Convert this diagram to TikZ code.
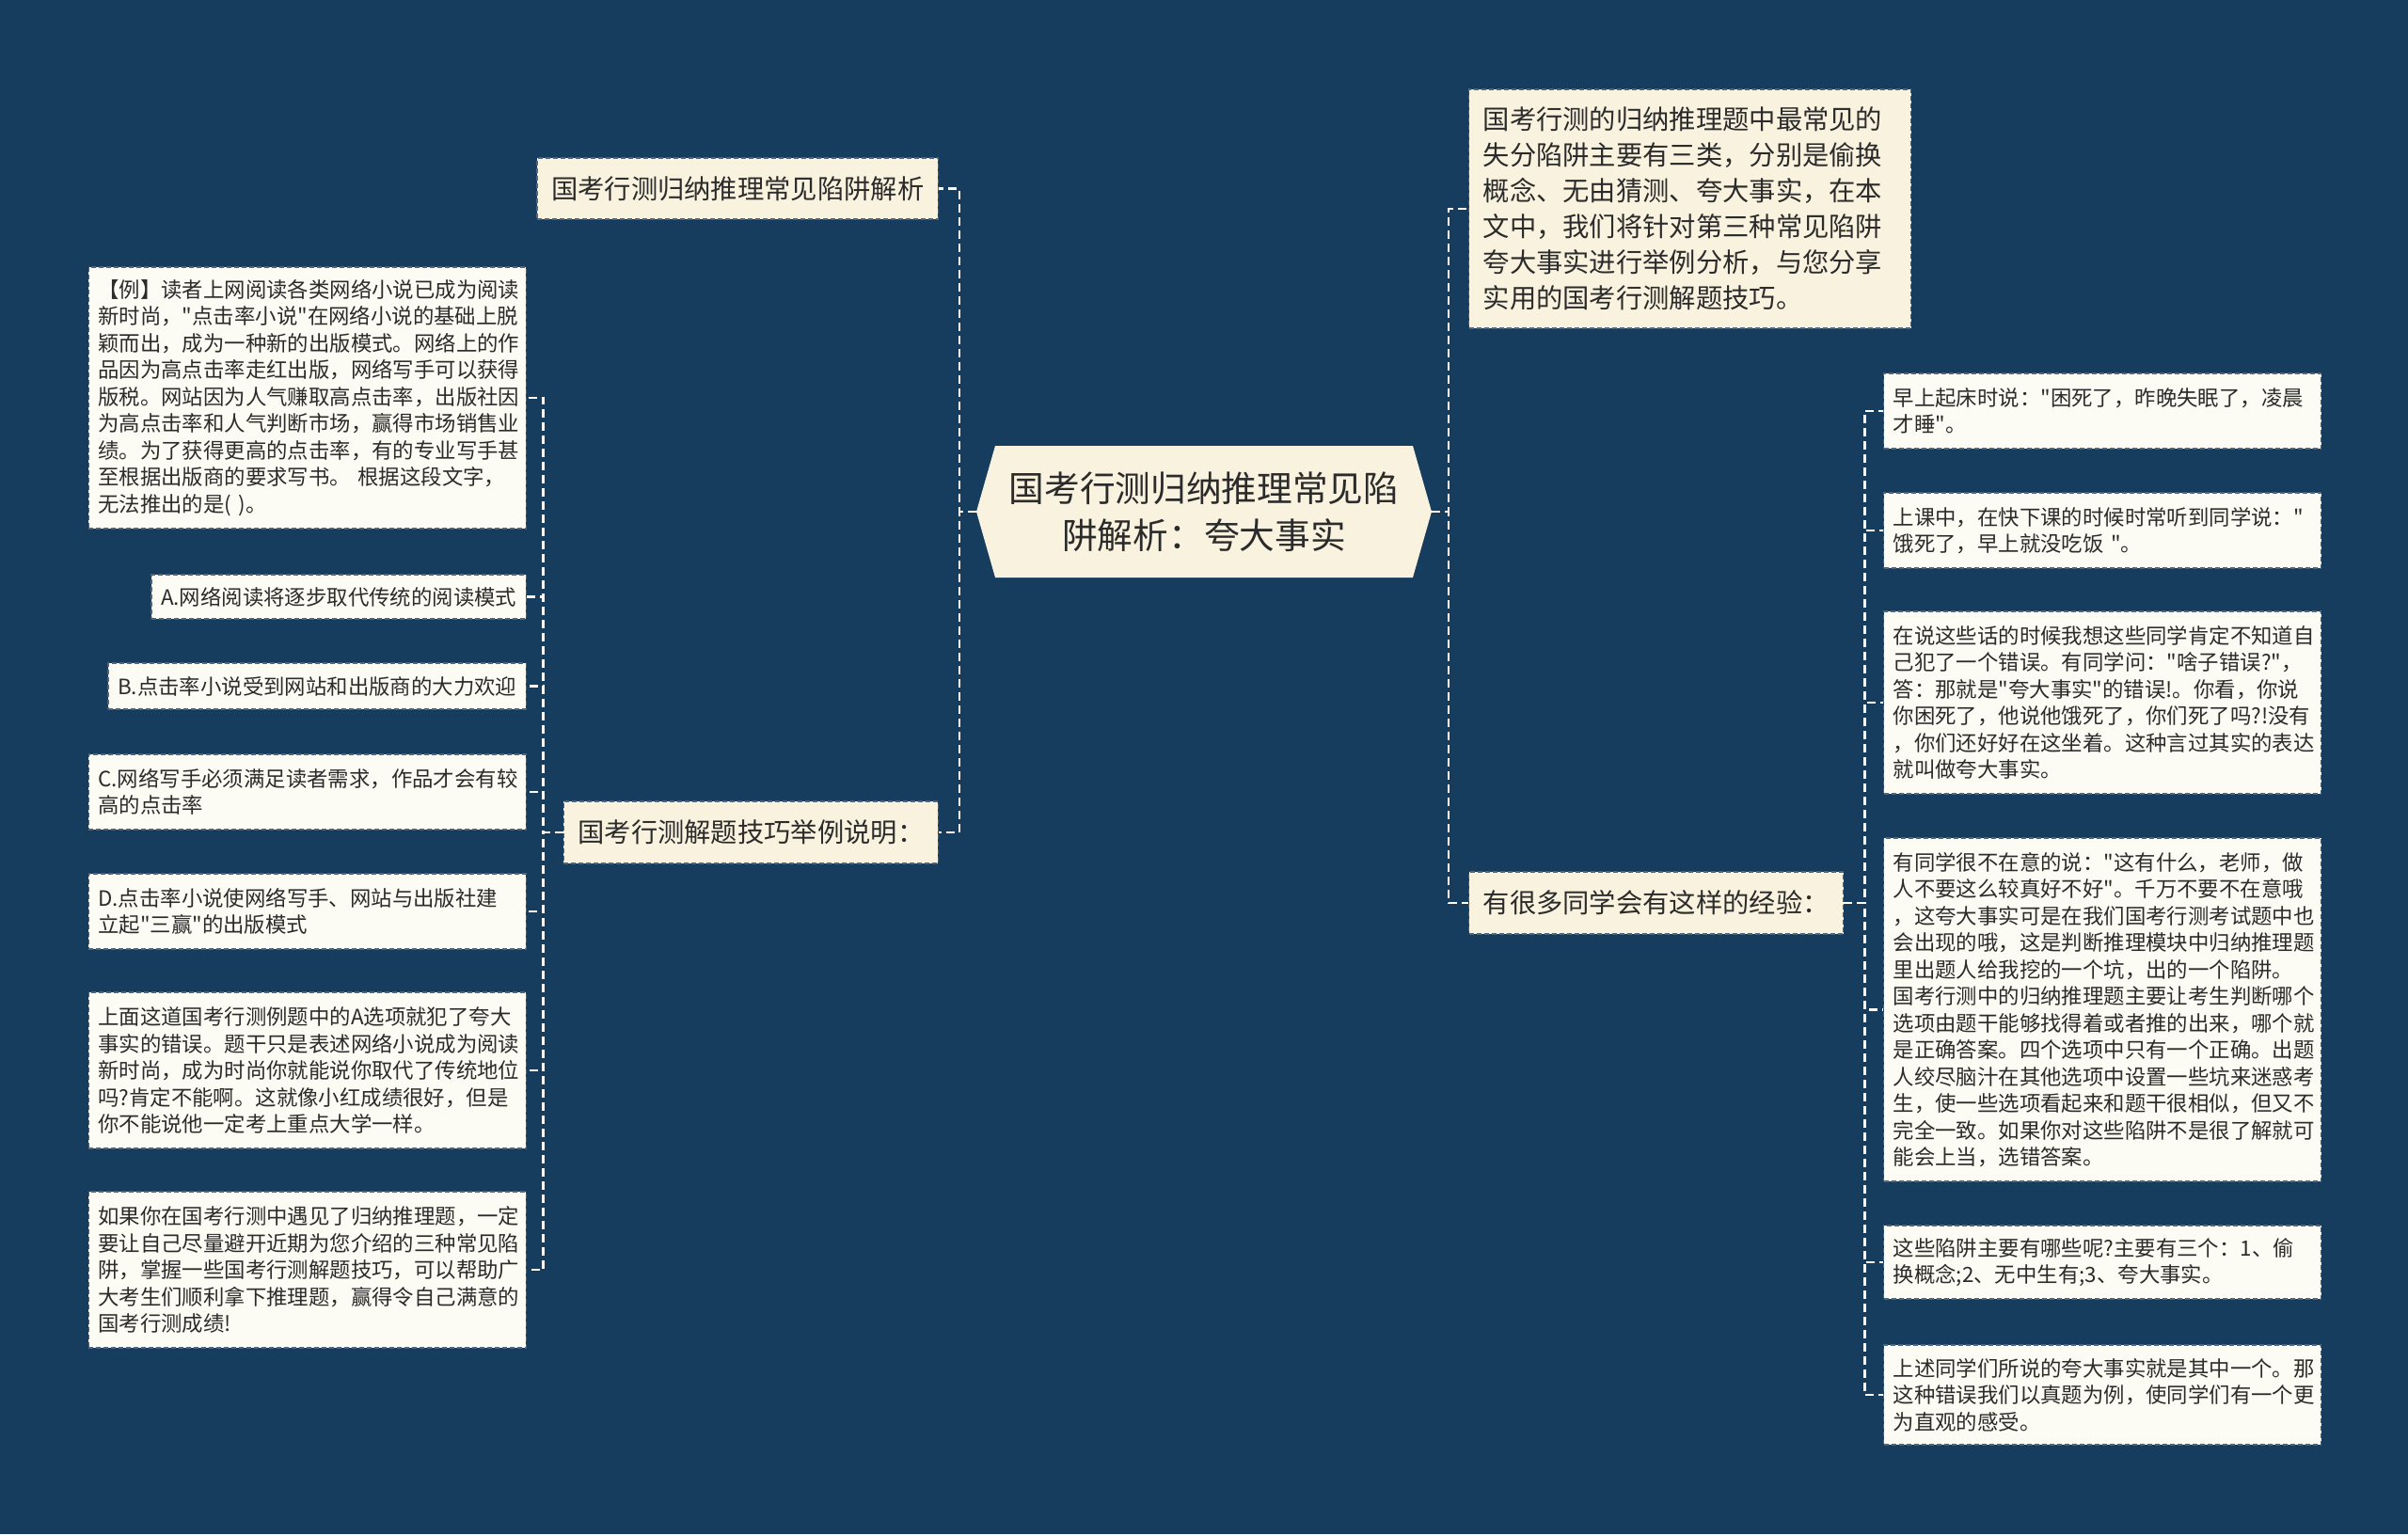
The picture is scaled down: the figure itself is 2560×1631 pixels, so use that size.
\documentclass[tikz,border=0pt]{standalone}
\usepackage{fontspec}
\newfontfamily\cjk{Noto Sans CJK SC}
\definecolor{bg}{HTML}{173D5E}
\definecolor{mainfill}{HTML}{F8F2DE}
\definecolor{leaffill}{HTML}{FCFCF4}
\definecolor{txt}{HTML}{2B2B2B}
\definecolor{bord}{HTML}{51657A}
\pgfdeclarelayer{background}
\pgfsetlayers{background,main}
\tikzset{
 box/.style={draw=bord, line width=1.4pt, dash pattern=on 5pt off 3pt, text=txt, align=left, inner ysep=0pt},
 leaf/.style={box, fill=leaffill, font=\cjk\fontsize{22.4}{28.5}\selectfont, inner xsep=10pt},
 leafw/.style={leaf, text width=445pt},
 mainbox/.style={box, fill=mainfill, font=\cjk\fontsize{28.3}{38}\selectfont, inner xsep=15pt, minimum height=66pt},
 centerbox/.style={text=txt, align=center, font=\cjk\fontsize{37.7}{50.5}\selectfont, text width=440pt, inner xsep=22pt, inner ysep=0pt, minimum height=140pt},
 conn/.style={draw=white, line width=2.5pt, dash pattern=on 9pt off 5pt},
}
\begin{document}
\begin{tikzpicture}[x=1pt,y=-1pt]
\begin{pgfonlayer}{background}
\fill[bg] (0,0) rectangle (2560,1631);
\end{pgfonlayer}
\useasboundingbox (0,0) rectangle (2560,1631);

% center
\coordinate (cc) at (1280,544);
\fill[mainfill] (cc) ++(-242,0) -- ++(20,-70) -- ++(444,0) -- ++(20,70) -- ++(-20,70) -- ++(-444,0) -- cycle;
\node[centerbox] (c) at (cc) {国考行测归纳推理常见陷\\阱解析：夸大事实};

% main nodes
\node[mainbox, anchor=east, minimum height=65pt] (m1) at (998,200.5) {国考行测归纳推理常见陷阱解析};
\node[mainbox, anchor=east] (m2) at (998,885) {国考行测解题技巧举例说明：};
\node[mainbox, anchor=west, text width=440pt, minimum height=254pt] (m3) at (1561,222) {国考行测的归纳推理题中最常见的\\失分陷阱主要有三类，分别是偷换\\概念、无由猜测、夸大事实，在本\\文中，我们将针对第三种常见陷阱\\夸大事实进行举例分析，与您分享\\实用的国考行测解题技巧。};
\node[mainbox, anchor=west] (m4) at (1561,960) {有很多同学会有这样的经验：};

% left leaves
\node[leafw, anchor=east, minimum height=278pt] (l1) at (560,423) {【例】读者上网阅读各类网络小说已成为阅读\\新时尚，"点击率小说"在网络小说的基础上脱\\颖而出，成为一种新的出版模式。网络上的作\\品因为高点击率走红出版，网络写手可以获得\\版税。网站因为人气赚取高点击率，出版社因\\为高点击率和人气判断市场，赢得市场销售业\\绩。为了获得更高的点击率，有的专业写手甚\\至根据出版商的要求写书。 根据这段文字，\\无法推出的是( )。};
\node[leaf, anchor=east, minimum height=47pt] (l2) at (560,634.5) {A.网络阅读将逐步取代传统的阅读模式};
\node[leaf, anchor=east, minimum height=49pt] (l3) at (560,729.5) {B.点击率小说受到网站和出版商的大力欢迎};
\node[leafw, anchor=east, minimum height=80pt] (l4) at (560,842) {C.网络写手必须满足读者需求，作品才会有较\\高的点击率};
\node[leafw, anchor=east, minimum height=80pt] (l5) at (560,969) {D.点击率小说使网络写手、网站与出版社建\\立起"三赢"的出版模式};
\node[leafw, anchor=east, minimum height=166pt] (l6) at (560,1138) {上面这道国考行测例题中的A选项就犯了夸大\\事实的错误。题干只是表述网络小说成为阅读\\新时尚，成为时尚你就能说你取代了传统地位\\吗?肯定不能啊。这就像小红成绩很好，但是\\你不能说他一定考上重点大学一样。};
\node[leafw, anchor=east, minimum height=166pt] (l7) at (560,1350) {如果你在国考行测中遇见了归纳推理题，一定\\要让自己尽量避开近期为您介绍的三种常见陷\\阱，掌握一些国考行测解题技巧，可以帮助广\\大考生们顺利拿下推理题，赢得令自己满意的\\国考行测成绩!};

% right leaves
\node[leafw, anchor=west, minimum height=80pt] (r1) at (2002,437) {早上起床时说："困死了，昨晚失眠了，凌晨\\才睡"。};
\node[leafw, anchor=west, minimum height=80pt] (r2) at (2002,564) {上课中，在快下课的时候时常听到同学说："\\饿死了，早上就没吃饭 "。};
\node[leafw, anchor=west, minimum height=194pt] (r3) at (2002,747) {在说这些话的时候我想这些同学肯定不知道自\\己犯了一个错误。有同学问："啥子错误?"，\\答：那就是"夸大事实"的错误!。你看，你说\\你困死了，他说他饿死了，你们死了吗?!没有\\，你们还好好在这坐着。这种言过其实的表达\\就叫做夸大事实。};
\node[leafw, anchor=west, minimum height=365pt] (r4) at (2002,1073.5) {有同学很不在意的说："这有什么，老师，做\\人不要这么较真好不好"。千万不要不在意哦\\，这夸大事实可是在我们国考行测考试题中也\\会出现的哦，这是判断推理模块中归纳推理题\\里出题人给我挖的一个坑，出的一个陷阱。\\国考行测中的归纳推理题主要让考生判断哪个\\选项由题干能够找得着或者推的出来，哪个就\\是正确答案。四个选项中只有一个正确。出题\\人绞尽脑汁在其他选项中设置一些坑来迷惑考\\生，使一些选项看起来和题干很相似，但又不\\完全一致。如果你对这些陷阱不是很了解就可\\能会上当，选错答案。};
\node[leafw, anchor=west, minimum height=78pt] (r5) at (2002,1342) {这些陷阱主要有哪些呢?主要有三个：1、偷\\换概念;2、无中生有;3、夸大事实。};
\node[leafw, anchor=west, minimum height=106pt] (r6) at (2002,1483) {上述同学们所说的夸大事实就是其中一个。那\\这种错误我们以真题为例，使同学们有一个更\\为直观的感受。};

\begin{pgfonlayer}{background}
\draw[conn] (c.west) -- ++(-18,0) |- (m1.east);
\draw[conn] (c.west) -- ++(-18,0) |- (m2.east);
\draw[conn] (c.east) -- ++(18,0) |- (m3.west);
\draw[conn] (c.east) -- ++(18,0) |- (m4.west);
\foreach \n in {l1,l2,l3,l4,l5,l6,l7}
  \draw[conn] (m2.west) -- ++(-21,0) |- (\n.east);
\foreach \n in {r1,r2,r3,r4,r5,r6}
  \draw[conn] (m4.east) -- ++(22,0) |- (\n.west);
\end{pgfonlayer}
\end{tikzpicture}
\end{document}
